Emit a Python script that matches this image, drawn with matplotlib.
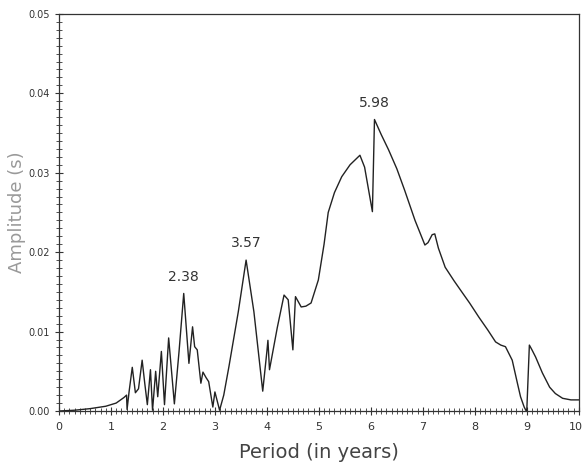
import matplotlib
matplotlib.use('Agg')
import matplotlib.pyplot as plt
from matplotlib.ticker import MultipleLocator, FormatStrFormatter, FuncFormatter

# Spectrum
period = [0.0, 0.3, 0.6, 0.9, 1.1, 1.25, 1.3, 1.31, 1.35, 1.41, 1.47, 1.53,
          1.6, 1.65, 1.70, 1.76, 1.80, 1.86, 1.9, 1.97, 2.03, 2.11, 2.22,
          2.31, 2.40, 2.5, 2.57, 2.61, 2.66, 2.73, 2.77, 2.83, 2.88, 2.96,
          3.0, 3.09, 3.17, 3.27, 3.45, 3.60, 3.75, 3.92, 4.0, 4.02, 4.05,
          4.2, 4.33, 4.41, 4.5, 4.55, 4.66, 4.75, 4.85, 4.99, 5.1, 5.18,
          5.3, 5.44, 5.6, 5.79, 5.88, 6.03, 6.07, 6.2, 6.34, 6.5, 6.65,
          6.85, 7.04, 7.1, 7.18, 7.23, 7.3, 7.43, 7.6, 7.76, 7.9, 8.08,
          8.25, 8.4, 8.5, 8.59, 8.72, 8.82, 8.88, 8.95, 8.99, 9.0, 9.05,
          9.1, 9.17, 9.3, 9.44, 9.55, 9.69, 9.85, 10.0]
amplitude = [0.0, 0.0001, 0.0003, 0.0006, 0.001, 0.0017, 0.002, 0.0002,
             0.0025, 0.0055, 0.0023, 0.0028, 0.0064, 0.0035, 0.0008, 0.0052,
             0.0001, 0.005, 0.0018, 0.0075, 0.0008, 0.0092, 0.0009, 0.0075,
             0.0148, 0.006, 0.0106, 0.0081, 0.0077, 0.0035, 0.0049, 0.0042,
             0.0037, 0.0005, 0.0024, 0.0001, 0.002, 0.0056, 0.0125, 0.019,
             0.0125, 0.0025, 0.0075, 0.0089, 0.0052, 0.0105, 0.0146, 0.014,
             0.0077, 0.0144, 0.0131, 0.0132, 0.0136, 0.0165, 0.021, 0.025,
             0.0275, 0.0295, 0.031, 0.0322, 0.0307, 0.0251, 0.0367, 0.0348,
             0.0329, 0.0305, 0.0278, 0.024, 0.0209, 0.0212, 0.0222, 0.0223,
             0.0205, 0.0181, 0.0164, 0.0149, 0.0136, 0.0118, 0.0102, 0.0087,
             0.0083, 0.0081, 0.0064, 0.0035, 0.0018, 0.0005, 0.0, 0.0, 0.0083,
             0.0077, 0.0068, 0.0048, 0.003, 0.0022, 0.0016, 0.0014, 0.0014]

# Labelled peaks: (period, amplitude, label)
peak_x = [2.40, 3.60, 6.07]
peak_y = [0.0148, 0.019, 0.0367]
peak_labels = ['2.38', '3.57', '5.98']

X_MAX = 10

fig = plt.figure(figsize=(5.84, 4.70), dpi=100)
ax = fig.add_axes([0.101, 0.1255, 0.890, 0.845])

ax.plot(period, amplitude, color='#222222', linewidth=1.0)

for px, py, lab in zip(peak_x, peak_y, peak_labels):
    ax.annotate(lab, (px, py), xytext=(0, 7), textcoords='offset points',
                ha='center', va='bottom', fontsize=10, color='#333333')

ax.set_xlim(0, X_MAX)
ax.set_ylim(0, 0.05)
ax.xaxis.set_major_locator(MultipleLocator(1))
ax.xaxis.set_minor_locator(MultipleLocator(0.1))
ax.yaxis.set_major_locator(MultipleLocator(0.01))
ax.yaxis.set_minor_locator(MultipleLocator(0.001))
ax.yaxis.set_major_formatter(FormatStrFormatter('%.2f'))
# last x label is drawn by hand so it can sit flush with the right edge
ax.xaxis.set_major_formatter(FuncFormatter(
    lambda v, p: '' if round(v) >= X_MAX else '%d' % round(v)))

ax.tick_params(which='major', direction='inout', length=6, width=0.8,
               colors='#333333', labelsize=7)
ax.tick_params(axis='x', which='major', labelsize=8, pad=5)
ax.tick_params(which='minor', direction='inout', length=4, width=0.6,
               colors='#333333')
for sp in ax.spines.values():
    sp.set_color('#333333')
    sp.set_linewidth(0.9)

ax.annotate(str(X_MAX), (X_MAX, 0), xycoords=ax.get_xaxis_transform(),
            xytext=(3, -8), textcoords='offset points', ha='right', va='top',
            fontsize=8, color='#333333')

ax.set_xlabel('Period (in years)', fontsize=14, color='#444444', labelpad=8)
ax.set_ylabel('Amplitude (s)', fontsize=13, color='#999999', labelpad=2)

fig.savefig('out.png', dpi=100)
